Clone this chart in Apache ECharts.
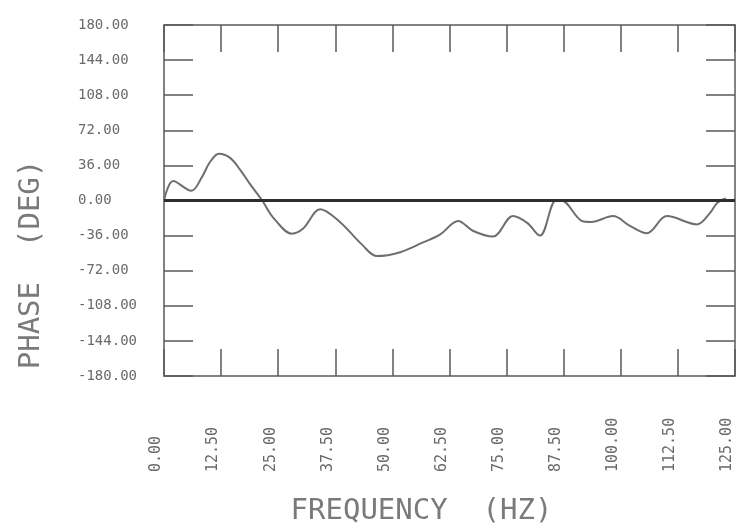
<!DOCTYPE html>
<html>
<head>
<meta charset="utf-8">
<script src="https://cdn.jsdelivr.net/npm/echarts@6/dist/echarts.min.js"></script>
<style>
html,body{margin:0;padding:0;background:#fff;}
#chart{width:740px;height:531px;}
</style>
</head>
<body>
<div id="chart"></div>
<script>
// Frequency (Hz) and phase (deg)
const freq = [0, 2, 6, 8.3, 10, 12, 14.4, 16.6, 18.8, 21.5, 23.9, 28, 30.4, 34.2, 38.5, 43.3, 46.6, 51.7, 56.7, 60.4, 64.4, 67.6, 72, 76.4, 79.5, 82.3, 85.8, 87, 91.5, 93.5, 98.3, 102, 105.7, 110.1, 116.7, 119.5, 121.1, 123];
const phase = [0, 20, 10, 24, 39, 48, 44, 32, 17, 0, -17.5, -34, -29, -9, -22, -45, -57, -53, -43, -35, -21, -31, -37, -16, -23, -36, 0, 0, -21, -22, -16, -26, -33.5, -16, -24.5, -13, -2.5, 2];
const xTicks = [0, 12.5, 25, 37.5, 50, 62.5, 75, 87.5, 100, 112.5, 125];
const yTicks = [-180, -144, -108, -72, -36, 0, 36, 72, 108, 144, 180];
const xTitle = 'FREQUENCY  (HZ)';
const yTitle = 'PHASE  (DEG)';

const axisColor = '#5a5a5a';
const labelColor = '#6a6a6a';
const mono = '"DejaVu Sans Mono", monospace';

const chart = echarts.init(document.getElementById('chart'));
const lineAxis = { show: true, onZero: false, lineStyle: { color: axisColor, width: 1.5 } };
chart.setOption({
  animation: false,
  backgroundColor: '#ffffff',
  grid: { left: 164, right: 5, top: 25, bottom: 149, containLabel: false },
  xAxis: [{
    type: 'value', position: 'bottom', min: xTicks[0], max: xTicks[xTicks.length - 1], interval: 12.5,
    axisLine: lineAxis,
    axisTick: { show: true, inside: true, length: 27, lineStyle: { color: axisColor, width: 1.5 } },
    splitLine: { show: false },
    axisLabel: {
      rotate: 90, align: 'left', verticalAlign: 'bottom', margin: 96,
      color: labelColor, fontFamily: mono, fontSize: 15,
      formatter: v => v.toFixed(2), showMinLabel: true, showMaxLabel: true
    },
    name: xTitle, nameLocation: 'middle', nameGap: 121,
    nameTextStyle: { fontFamily: mono, fontSize: 29, color: '#7a7a7a', padding: [0, 56, 0, 0] }
  }, {
    type: 'value', position: 'top', min: xTicks[0], max: xTicks[xTicks.length - 1], interval: 12.5,
    axisLine: lineAxis,
    axisTick: { show: true, inside: true, length: 27, lineStyle: { color: axisColor, width: 1.5 } },
    splitLine: { show: false }, axisLabel: { show: false }
  }],
  yAxis: [{
    type: 'value', position: 'left', min: yTicks[0], max: yTicks[yTicks.length - 1], interval: 36,
    axisLine: lineAxis,
    axisTick: { show: true, inside: true, length: 29, lineStyle: { color: axisColor, width: 1.5 } },
    splitLine: { show: false },
    axisLabel: {
      align: 'left', margin: 86, color: labelColor, fontFamily: mono, fontSize: 14,
      padding: [0, 0, 9, 0], formatter: v => v.toFixed(2), showMinLabel: true, showMaxLabel: true
    },
    name: yTitle, nameLocation: 'middle', nameGap: 118,
    nameTextStyle: { fontFamily: mono, fontSize: 29, color: '#7a7a7a', padding: [0, 128, 0, 0] }
  }, {
    type: 'value', position: 'right', min: yTicks[0], max: yTicks[yTicks.length - 1], interval: 36,
    axisLine: lineAxis,
    axisTick: { show: true, inside: true, length: 29, lineStyle: { color: axisColor, width: 1.5 } },
    splitLine: { show: false }, axisLabel: { show: false }
  }],
  series: [{
    type: 'line', xAxisIndex: 0, yAxisIndex: 0,
    data: freq.map((f, i) => [f, phase[i]]),
    smooth: 0.35, showSymbol: false,
    lineStyle: { color: '#6e6e6e', width: 2 },
    markLine: {
      silent: true, symbol: ['none', 'none'], label: { show: false },
      lineStyle: { color: '#2e2e2e', width: 3, type: 'solid' },
      data: [{ yAxis: 0 }]
    }
  }]
});
</script>
</body>
</html>
